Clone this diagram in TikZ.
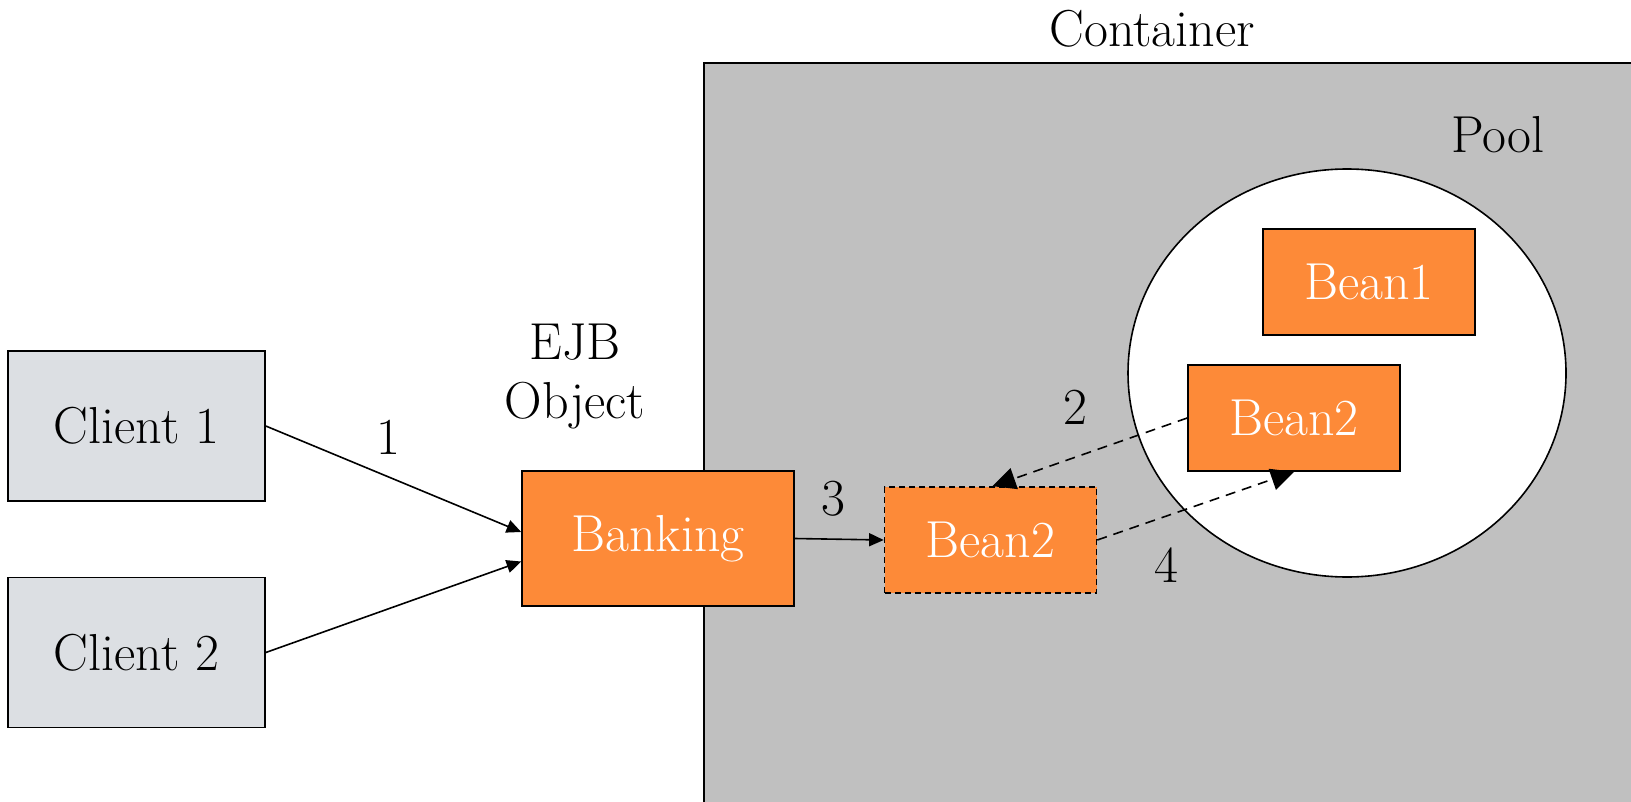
\documentclass[tikz,border=0pt]{standalone}
\usepackage{fontspec}
\usetikzlibrary{arrows.meta}
\definecolor{beanorange}{HTML}{FD8A38}
\definecolor{clientgray}{HTML}{DCDFE3}
\definecolor{containergray}{HTML}{C0C0C0}

\begin{document}
\begin{tikzpicture}[x=0.5pt,y=-0.5pt,
  every node/.style={font=\fontsize{26}{29.5}\selectfont},
  client/.style={draw,line width=0.8pt,fill=clientgray,minimum width=128.5pt,minimum height=75pt,inner sep=0pt},
  bean/.style={draw,line width=0.8pt,fill=beanorange,text=white,minimum width=106pt,minimum height=53pt,inner sep=0pt},
  flow/.style={line width=0.8pt,-{Triangle[length=7.3pt,width=6.5pt]}},
  swap/.style={line width=0.8pt,dashed,dash pattern=on 5pt off 3.5pt,-{Triangle[length=11.5pt,width=11pt]}}]
 \useasboundingbox (0,0) rectangle (1631,802);
 \fill[white] (0,0) rectangle (1631,802);
 \fill[containergray] (704,63) rectangle (1631,802);
 \draw[line width=0.8pt] (704,802)--(704,63)--(1631,63);
 \node (container) at (1152,29) {Container};
 \draw[line width=0.8pt,fill=white] (1347,373) ellipse [x radius=219, y radius=204];
 \node (pool) at (1498,135) {Pool};
 \node[client] (c1) at (136.5,426) {Client 1};
 \node[client] (c2) at (136.5,652.5) {Client 2};
 \node[bean,minimum width=136pt,minimum height=67.5pt] (bank) at (658,538.5) {Banking};
 \node[align=center] (ejb) at (575,377) {EJB\\Object};
 \node[bean] (bean1) at (1369,282) {Bean1};
 \node[bean] (pbean) at (1294,418) {Bean2};
 \node[bean,dashed,dash pattern=on 3pt off 2pt] (abean) at (990.5,540) {Bean2};
 \draw[flow] (c1.east) -- ([yshift=3.25pt]bank.west);
 \draw[flow] (c2.east) -- ([yshift=-11.5pt]bank.west);
 \draw[flow] (bank.east) -- (abean.west);
 \draw[swap] (pbean.west) -- ([xshift=1pt]abean.north);
 \draw[swap] (abean.east) -- (pbean.south);
 \node (l1) at (388,437) {1};
 \node (l2) at (1075,407) {2};
 \node (l3) at (833,499) {3};
 \node (l4) at (1166,565) {4};
\end{tikzpicture}
\end{document}
